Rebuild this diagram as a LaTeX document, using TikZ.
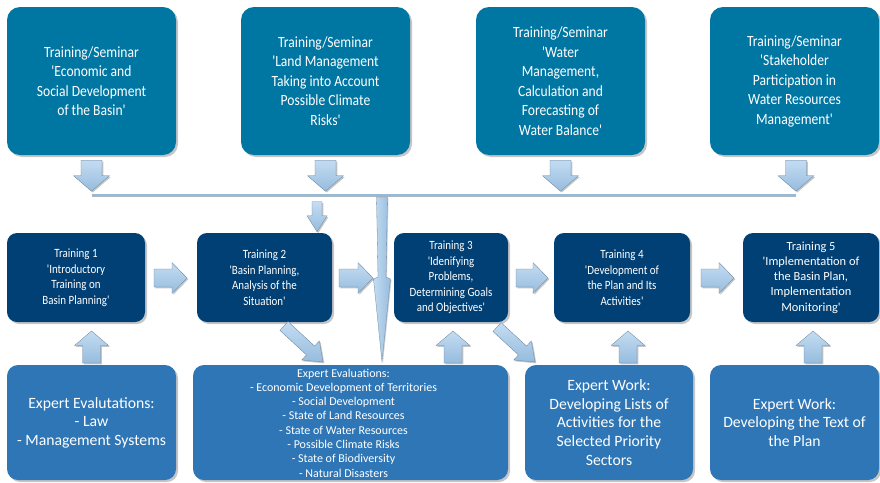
\documentclass[tikz,border=0pt]{standalone}
\usepackage{fontspec}
\newfontfamily\cf{Carlito}
\newfontfamily\cfc{Carlito}[FakeStretch=0.87]
\usetikzlibrary{shadows,calc}
\definecolor{topc}{RGB}{0,118,163}
\definecolor{midc}{RGB}{0,64,117}
\definecolor{botc}{RGB}{46,118,182}
\definecolor{arrl}{RGB}{196,220,242}
\definecolor{arrd}{RGB}{150,188,222}
\definecolor{lnc}{RGB}{150,185,214}
% block arrow: [options]{start}{tip}{shaft half width}{head half width}{head length}
\newcommand\blkarr[6][]{%
  \coordinate (hh) at ($(#3)!#6!(#2)$);
  \path[barrow,#1] ($(#2)!#4!90:(#3)$) -- ($(hh)!#4!90:(#3)$) -- ($(hh)!#5!90:(#3)$)
    -- (#3) -- ($(hh)!#5!-90:(#3)$) -- ($(hh)!#4!-90:(#3)$) -- ($(#2)!#4!-90:(#3)$) -- cycle;}
\begin{document}
\begin{tikzpicture}[x=1pt,y=-1pt,
 box/.style={rectangle, text=white, align=center, inner sep=0pt,
   drop shadow={shadow xshift=2pt,shadow yshift=-2pt,opacity=0.45}},
 topbox/.style={box, fill=topc, minimum width=169pt, minimum height=148pt, rounded corners=13pt,
   font=\cfc\fontsize{15.6}{19.5}\selectfont},
 midbox/.style={box, fill=midc, minimum height=89pt, rounded corners=10pt,
   font=\cfc\fontsize{12.6}{15.5}\selectfont},
 botbox/.style={box, fill=botc, minimum height=115pt, rounded corners=11pt,
   font=\cf\fontsize{15.7}{18.6}\selectfont},
 barrow/.style={draw=arrd!70!black, line width=0.3pt, top color=arrl, bottom color=arrd,
   drop shadow={shadow xshift=1.3pt,shadow yshift=-1.3pt,opacity=0.45}},
]
\useasboundingbox (0,0) rectangle (880,482);

% top row
\node[topbox] (top1) at (91.5,81) {Training/Seminar\\'Economic and\\Social Development\\of the Basin'};
\node[topbox] (top2) at (325.5,81) {Training/Seminar\\'Land Management\\Taking into Account\\Possible Climate\\Risks'};
\node[topbox] (top3) at (560.5,81) {Training/Seminar\\'Water\\Management,\\Calculation and\\Forecasting of\\Water Balance'};
\node[topbox] (top4) at (794.5,81) {Training/Seminar\\'Stakeholder\\Participation in\\Water Resources\\Management'};

% middle row
\node[midbox, minimum width=138pt] (t1) at (76,277.5) {Training 1\\'Introductory\\Training on\\Basin Planning'};
\node[midbox, minimum width=135pt] (t2) at (264.5,277.5) {Training 2\\'Basin Planning,\\Analysis of the\\Situation'};
\node[midbox, minimum width=114pt] (t3) at (451,277.5) {Training 3\\'Idenifying\\Problems,\\Determining Goals\\and Objectives'};
\node[midbox, minimum width=136pt] (t4) at (622,277.5) {Training 4\\'Development of\\the Plan and Its\\Activities'};
\node[midbox, minimum width=136pt, font=\cf\fontsize{12.4}{15.2}\selectfont] (t5) at (811,277.5) {Training 5\\'Implementation of\\the Basin Plan,\\Implementation\\Monitoring'};

% bottom row
\node[botbox, minimum width=169pt] (b1) at (91.5,422.5) {Expert Evalutations:\\- Law\\- Management Systems};
\node[botbox, minimum width=315pt] (b2) at (350.5,422.5) {};
\node[text=white, align=center, inner sep=0pt, font=\cf\fontsize{12}{14.3}\selectfont] (b2t) at (343.5,423)
 {Expert Evaluations:\\- Economic Development of Territories\\- Social Development\\- State of Land Resources\\- State of Water Resources\\- Possible Climate Risks\\- State of Biodiversity\\- Natural Disasters};
\node[botbox, minimum width=168pt] (b3) at (609,422.5) {Expert Work:\\Developing Lists of\\Activities for the\\Selected Priority\\Sectors};
\node[botbox, minimum width=169pt] (b4) at (794.5,422.5) {Expert Work:\\Developing the Text of\\the Plan};

% horizontal collector line
\coordinate (hl) at ($(top1.south)+(0,40)$);
\coordinate (hr) at ($(top4.south)+(1.5,40)$);
\draw[lnc, line width=2pt] (hl) -- (hr);
\draw[arrd!60!black, line width=0.4pt, opacity=0.5] ($(hl)+(0,1.2)$) -- ($(hr)+(0,1.2)$);

% down arrows from top boxes
\foreach \n/\dx in {top1/0, top2/0, top3/0, top4/1.5}{
  \coordinate (\n s) at ($(\n.south)+(\dx,5)$);
  \coordinate (\n e) at ($(\n.south)+(\dx,36)$);
  \blkarr{\n s}{\n e}{10.5pt}{18pt}{15.5pt}
}

% small arrow into training 2
\coordinate (d5s) at ($(t2.north)+(52.5,-31)$);
\coordinate (d5e) at ($(t2.north)+(52.5,-1)$);
\blkarr{d5s}{d5e}{5pt}{10pt}{16pt}

% long thin arrow
\coordinate (lt) at (382,197);
\coordinate (lb) at (382,362);
\path[draw=arrd!70!black, line width=0.3pt, left color=arrl, right color=arrd,
  drop shadow={shadow xshift=1pt,shadow yshift=-1pt,opacity=0.35}]
  ($(lt)+(-5.5,0)$) -- ($(lt)+(5.5,0)$) -- (386,277) -- (390.5,279) -- (lb)
  -- (373.5,279) -- (378,277) -- cycle;

% right arrows between trainings
\coordinate (r1s) at (154,278);  \coordinate (r1e) at (187,278);
\coordinate (r2s) at (339,278);  \coordinate (r2e) at (373,278);
\coordinate (r3s) at (516,278);  \coordinate (r3e) at (548,278);
\coordinate (r4s) at (701,278);  \coordinate (r4e) at (734,278);
\blkarr{r1s}{r1e}{9pt}{15.5pt}{15pt}
\blkarr{r2s}{r2e}{9pt}{15.5pt}{15pt}
\blkarr{r3s}{r3e}{9pt}{15.5pt}{15pt}
\blkarr{r4s}{r4e}{9pt}{15.5pt}{15pt}

% up arrows from bottom boxes
\foreach \n/\x in {u1/91.5, u3/453, u4/628, u5/813}{
  \coordinate (\n s) at (\x,363);
  \coordinate (\n e) at (\x,331);
  \blkarr{\n s}{\n e}{9pt}{17pt}{14.5pt}
}

% diagonal arrows
\coordinate (g1s) at (284,326); \coordinate (g1e) at (323,362);
\coordinate (g2s) at (497,327); \coordinate (g2e) at (535,362);
\blkarr{g1s}{g1e}{6pt}{13pt}{17pt}
\blkarr{g2s}{g2e}{6pt}{13pt}{17pt}
\end{tikzpicture}
\end{document}
